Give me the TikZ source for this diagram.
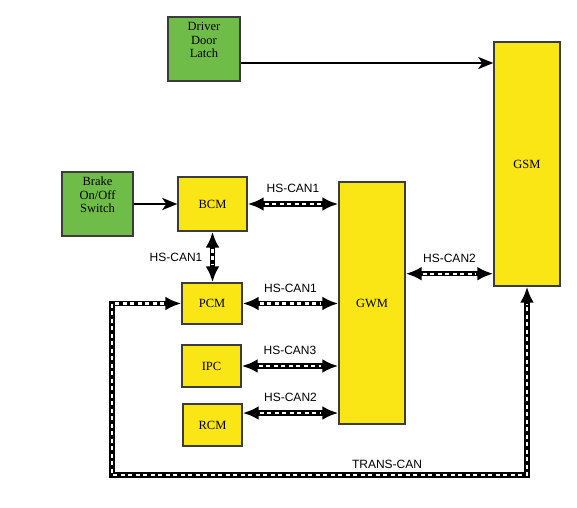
\documentclass[tikz,border=0pt]{standalone}
\usepackage{fontspec}
\setmainfont{Liberation Serif}
\setsansfont{Liberation Sans}
\usetikzlibrary{arrows.meta,calc}
\definecolor{ecuyellow}{RGB}{250,230,20}
\definecolor{swgreen}{RGB}{112,188,72}
\definecolor{boxline}{RGB}{60,60,60}
\tikzset{
  ecu/.style={draw=boxline, line width=1.4pt, fill=ecuyellow, inner sep=0pt, align=center,
    font=\fontsize{12.5}{13.5}\selectfont},
  sensor/.style={ecu, fill=swgreen},
  sensortext/.style={align=center, yshift=9pt, font=\fontsize{12.5}{13.5}\selectfont},
  wire/.style={line width=2.6pt, -{Stealth[length=15pt,width=12pt,inset=4pt]}},
  bus/.style={line width=5.5pt, {Latex[length=16pt,width=14pt]}-{Latex[length=16pt,width=14pt]},
    postaction={draw=white, -, line width=2.4pt, dash pattern=on 4pt off 3.5pt,
      shorten <=17pt, shorten >=17pt}},
  buslabel/.style={font=\sffamily\fontsize{12}{12}\selectfont}
}
\begin{document}
\begin{tikzpicture}[x=1pt,y=-1pt]
      \useasboundingbox (0,0) rectangle (577,507);
      % switches and control modules
      \node[sensor, minimum width=72pt, minimum height=64pt,
        label={[sensortext]center:Driver\\Door\\Latch}] (latch) at (204,49) {};
      \node[sensor, minimum width=71pt, minimum height=64pt,
        label={[sensortext]center:Brake\\On/Off\\Switch}] (brake) at (97.5,204) {};
      \node[ecu, minimum width=69pt, minimum height=54pt] (bcm) at (212.5,204) {BCM};
      \node[ecu, minimum width=60pt, minimum height=41pt] (pcm) at (212,303.5) {PCM};
      \node[ecu, minimum width=59pt, minimum height=42pt] (ipc) at (211.5,366) {IPC};
      \node[ecu, minimum width=59pt, minimum height=42pt] (rcm) at (212.5,425) {RCM};
      \node[ecu, minimum width=66pt, minimum height=242pt] (gwm) at (372,303) {GWM};
      \node[ecu, minimum width=66pt, minimum height=244pt] (gsm) at (527,164) {GSM};
      % hard wires
      \draw[wire] ([yshift=-14pt]latch.east) -- ([yshift=-14pt]latch.east -| gsm.west);
      \draw[wire] (brake.east) -- (bcm.west);
      % CAN buses
      \draw[bus] (bcm.east) -- (bcm.east -| gwm.west) node[buslabel, midway, above=5pt] {HS-CAN1};
      \draw[bus] (bcm.south) -- (bcm.south |- pcm.north) node[buslabel, midway, left=4pt] {HS-CAN1};
      \draw[bus] (pcm.east) -- (pcm.east -| gwm.west) node[buslabel, midway, above=5pt] {HS-CAN1};
      \draw[bus] (ipc.east) -- (ipc.east -| gwm.west) node[buslabel, midway, above=5pt] {HS-CAN3};
      \draw[bus] ([yshift=12pt]rcm.east) -- ([yshift=12pt]rcm.east -| gwm.west) node[buslabel, midway, above=5pt] {HS-CAN2};
      \draw[bus] ([yshift=13pt]gsm.south west -| gwm.east) -- ([yshift=13pt]gsm.south west) node[buslabel, midway, above=5pt] {HS-CAN2};
      \coordinate (transcorner) at (112,475);
      \draw[bus] (pcm.west) -| (transcorner) -| (gsm.south);
      \node[buslabel, above=3pt] (translabel) at (387,475) {TRANS-CAN};
\end{tikzpicture}
\end{document}
